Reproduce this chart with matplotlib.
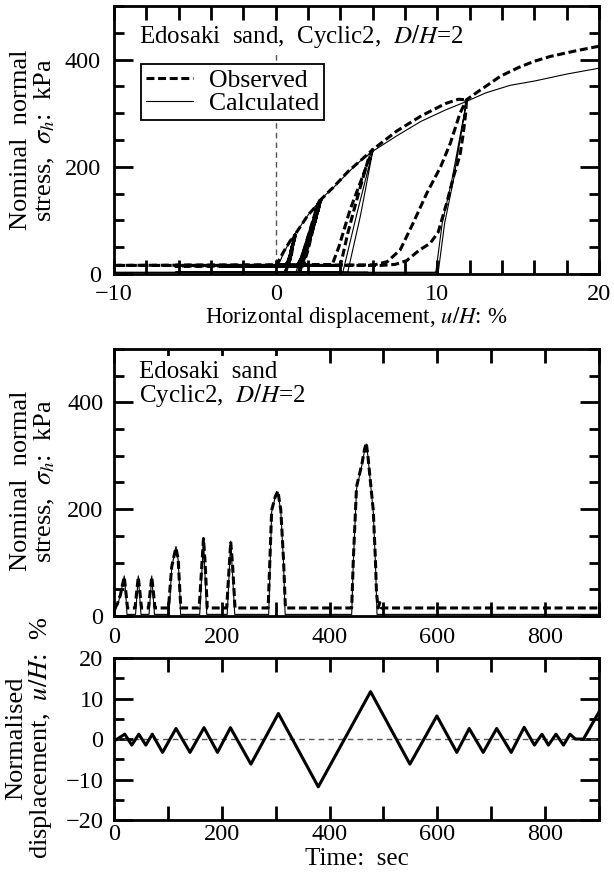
import numpy as np
import matplotlib.pyplot as plt
from matplotlib.ticker import MultipleLocator

plt.rcParams['font.family'] = ['Liberation Serif', 'DejaVu Serif']
plt.rcParams['mathtext.fontset'] = 'stix'
plt.rcParams['font.size'] = 18

# --- stress vs normalised displacement (top) ---
obs_u = [0, 0.5, 0.9, 1.2,
         1.0, 0.8, 0.6, -1.5,
         0.6, 0.8, 1.0, 1.2,
         1.0, 0.8, 0.6, -1.5,
         0.7, 0.9, 1.05, 1.2,
         1.0, 0.8, 0.65, -3.3,
         0.75, 0.95, 1.1, 1.25, 1.6, 2.0, 2.3, 2.6,
         2.3, 1.9, 1.5, 1.3, -3.3,
         1.4, 1.7, 2.1, 2.45, 2.6, 2.8,
         2.45, 2.05, 1.7, 1.5, -3.3,
         1.6, 1.9, 2.3, 2.6, 2.8,
         2.5, 2.1, 1.75, 1.55, -6.2,
         1.7, 2.0, 2.4, 2.8, 3.6, 4.5, 5.3, 6.0,
         5.6, 5.1, 4.6, 4.2, 3.9, 3.65, 3.5, -11.8,
         4.0, 4.15, 4.45, 4.8, 5.1, 5.5, 5.8, 6.0, 7.5, 9.0, 10.5, 11.3, 11.8,
         11.75, 11.6, 11.4, 11.0, 10.6, 10.05, 9.55, 8.9, 8.1, 7.4, 6.5, -6.2,
         5.7, -3.3, 2.6, -3.3, 2.6, -3.3, 2.9, -1.5, 1.2, -1.5, 1.2, -1.5, 1.2,
         6.1, 6.9, 7.7, 8.5, 9.35, 10.2, 10.8, 11.4, 11.8,
         12.5, 13.9, 15.0, 16.0, 17.0, 18.5, 20.0]
obs_s = [15, 42, 62, 73,
         48, 25, 16, 15,
         15, 25, 50, 73,
         48, 25, 16, 15,
         15, 28, 52, 73,
         48, 25, 16, 15,
         15, 32, 58, 76, 92, 110, 120, 130,
         95, 55, 25, 15, 15,
         15, 40, 80, 115, 130, 142,
         100, 60, 30, 15, 15,
         15, 40, 85, 118, 139,
         105, 65, 30, 15, 15,
         15, 45, 95, 139, 163, 192, 213, 232,
         200, 160, 120, 80, 50, 30, 17, 16,
         16, 35, 75, 115, 148, 190, 222, 232, 267, 295, 318, 326, 325,
         300, 262, 222, 182, 135, 78, 57, 45, 25, 18, 16, 16,
         16, 16, 16, 16, 16, 16, 16, 16, 16, 16, 16, 16, 16,
         17, 23, 45, 95, 151, 200, 244, 300, 325,
         340, 369, 385, 397, 406, 416, 425]

calc_u = [0, 0.5, 0.9, 1.2,
          0.55, -1.5, 0.65, 1.2,
          0.55, -1.5, 0.65, 1.2,
          0.55, -3.3, 0.7, 1.2, 2.0, 2.6,
          1.25, -3.3, 1.35, 2.6, 2.8,
          1.4, -3.3, 1.5, 2.8,
          1.45, -6.2, 1.55, 2.8, 3.6, 4.5, 5.2, 6.0,
          5.0, 4.15, -11.8, 4.45, 5.25, 6.0, 7.5, 9.0, 10.5, 11.8,
          10.9, 10.3, 9.9, -6.2, 5.7, -3.3, 2.6, -3.3, 2.6, -3.3, 2.9,
          -1.5, 1.2, -1.5, 1.2, -1.5, 1.2, 0,
          10.05, 10.45, 11.0, 11.8, 13.0, 14.5, 16.0, 18.0, 20.0]
calc_s = [5, 40, 62, 75,
          3, 3, 3, 75,
          3, 3, 3, 75,
          3, 3, 3, 75, 110, 132,
          3, 3, 3, 130, 140,
          3, 3, 3, 140,
          3, 3, 3, 140, 162, 190, 210, 229,
          110, 3, 3, 3, 110, 229, 258, 285, 306, 322,
          176, 95, 3, 3, 3, 3, 3, 3, 3, 3, 3,
          3, 3, 3, 3, 3, 3, 3,
          3, 95, 176, 322, 338, 352, 360, 373, 384]

# --- stress vs time (middle) ---
obs_t = [0, 6, 12, 16, 19, 22, 25,
         39, 42, 45, 48, 51,
         64, 67, 70, 73, 76,
         101, 107, 113, 115, 119, 122, 124,
         158, 162, 166, 169, 173,
         209, 213, 216.5, 220, 224.5,
         286, 292.5, 299, 304, 309.5, 314.5, 318,
         441, 444, 450, 460, 465, 468, 471, 481, 485, 487, 490, 493, 496,
         900]
obs_st = [15, 22, 40, 60, 73, 45, 15,
          15, 45, 73, 45, 15,
          15, 45, 73, 45, 15,
          15, 92, 120, 127, 107, 50, 15,
          15, 80, 145, 100, 15,
          15, 80, 139, 95, 15,
          15, 198, 223, 234, 198, 105, 15,
          15, 105, 242, 285, 313, 324, 300, 198, 105, 43, 15, 25, 15,
          15]

calc_t = [0, 8, 13, 19, 22, 24,
          40, 45, 50,
          65, 70, 75,
          102, 107, 113, 115, 119, 122, 123.5,
          159, 166, 172,
          210, 216.5, 224,
          287, 292.5, 299, 304, 309.5, 314.5, 317.5,
          441, 444, 450, 460, 465, 468, 471, 481, 485, 488,
          900]
calc_st = [3, 25, 45, 75, 40, 3,
           3, 75, 3,
           3, 75, 3,
           3, 90, 122, 130, 105, 45, 3,
           3, 142, 3,
           3, 140, 3,
           3, 195, 222, 232, 195, 100, 3,
           3, 100, 238, 283, 310, 322, 300, 195, 100, 3,
           3]

# --- displacement history (bottom) ---
disp_t = [0, 20, 33, 46, 59, 71, 90, 115, 141, 167, 192, 216, 254, 305, 379,
          476, 549, 599, 636, 659, 685, 710, 737, 761, 780, 794, 806, 820,
          834, 846, 856, 871, 900]
disp_u = [-0.5, 1.2, -1.5, 1.2, -1.5, 1.2, -3.3, 2.6, -3.3, 2.8, -3.3, 2.8,
          -6.2, 6.3, -11.8, 11.7, -6.2, 5.7, -3.3, 2.6, -3.3, 2.6, -3.3, 2.9,
          -1.5, 1.2, -1.5, 1.2, -1.5, 1.2, 0.0, 0.0, 6.7]

obs_style = dict(color='black', lw=2.2, ls=(0, (2.6, 1.2)))
calc_style = dict(color='black', lw=0.8, ls='-')
white_box = dict(facecolor='white', edgecolor='none', pad=1.5)


def style_axes(ax, xlab_pad, ylab_pad=7.5):
    for sp in ax.spines.values():
        sp.set_linewidth(2.0)
    ax.tick_params(axis='both', which='both', direction='in', top=True,
                   right=True, width=2.0, labelsize=17.5)
    ax.tick_params(axis='y', which='major', length=14, pad=ylab_pad)
    ax.tick_params(axis='y', which='minor', length=7)
    ax.tick_params(axis='x', which='both', length=10, pad=xlab_pad)


fig = plt.figure(figsize=(6.14, 8.83), dpi=100)

# top: sigma_h vs u/H
ax1 = fig.add_axes([0.1857, 0.6897, 0.790, 0.3035])
ax1.axvline(0, color='#555555', lw=1.0, ls=(0, (4, 3)), zorder=1)
ax1.plot(calc_u, calc_s, label='Calculated', **calc_style)
ax1.plot(obs_u, obs_s, label='Observed', **obs_style)
ax1.set_xlim(-10, 20)
ax1.set_ylim(0, 500)
ax1.xaxis.set_major_locator(MultipleLocator(10))
ax1.xaxis.set_minor_locator(MultipleLocator(2))
ax1.yaxis.set_major_locator(MultipleLocator(200))
ax1.yaxis.set_minor_locator(MultipleLocator(50))
style_axes(ax1, 7, 9.5)
ax1.set_xlabel(r'Horizontal displacement, $u/H$: %', fontsize=16.5, labelpad=0)
ax1.text(0.0515, 0.862, r'Edosaki  sand,  Cyclic2,  $D/H$=2',
         transform=ax1.transAxes, ha='left', va='baseline', bbox=white_box,
         zorder=4)
handles, labels = ax1.get_legend_handles_labels()
leg = ax1.legend(handles[::-1], labels[::-1], loc='upper left',
                 bbox_to_anchor=(0.056, 0.784), frameon=True, fancybox=False,
                 handlelength=1.8, handletextpad=0.64, borderpad=0.2,
                 labelspacing=0.0, borderaxespad=0, fontsize=18.5,
                 framealpha=1)
leg.get_frame().set_edgecolor('black')
leg.get_frame().set_linewidth(1.3)
leg.set_zorder(5)

# middle: sigma_h vs time
ax2 = fig.add_axes([0.1857, 0.3024, 0.790, 0.3024])
ax2.plot(calc_t, calc_st, **calc_style)
ax2.plot(obs_t, obs_st, **obs_style)
ax2.set_xlim(0, 900)
ax2.set_ylim(0, 500)
ax2.xaxis.set_major_locator(MultipleLocator(200))
ax2.xaxis.set_minor_locator(MultipleLocator(100))
ax2.yaxis.set_major_locator(MultipleLocator(200))
ax2.yaxis.set_minor_locator(MultipleLocator(50))
style_axes(ax2, 8)
ax2.text(0.0515, 0.891, 'Edosaki  sand', transform=ax2.transAxes,
         ha='left', va='baseline', bbox=dict(facecolor='white',
                                             edgecolor='none', pad=4),
         zorder=4)
ax2.text(0.0515, 0.800, r'Cyclic2,  $D/H$=2', transform=ax2.transAxes,
         ha='left', va='baseline', bbox=white_box, zorder=4)

# bottom: u/H vs time
ax3 = fig.add_axes([0.1857, 0.0713, 0.790, 0.1835])
ax3.axhline(0, color='#555555', lw=1.0, ls=(0, (4, 3)))
ax3.plot(disp_t, disp_u, color='black', lw=2.2)
ax3.set_xlim(0, 900)
ax3.set_ylim(-20, 20)
ax3.xaxis.set_major_locator(MultipleLocator(200))
ax3.xaxis.set_minor_locator(MultipleLocator(100))
ax3.yaxis.set_major_locator(MultipleLocator(10))
ax3.yaxis.set_minor_locator(MultipleLocator(5))
style_axes(ax3, 3)
ax3.set_xlabel('Time:  sec', labelpad=2)

ylab = dict(rotation=90, ha='center', va='center', multialignment='center',
            linespacing=1.0, fontsize=19)
fig.text(33.5 / 614, 1 - 140 / 883, 'Nominal  normal\n' + r'stress,  $\sigma_h$:  kPa', **ylab)
fig.text(33.5 / 614, 1 - 481 / 883, 'Nominal  normal\n' + r'stress,  $\sigma_h$:  kPa', **ylab)
fig.text(30 / 614, 1 - 738 / 883, 'Normalised\n' + r'displacement,  $u/H$:  %', **ylab)

fig.savefig('out.png', dpi=100)
